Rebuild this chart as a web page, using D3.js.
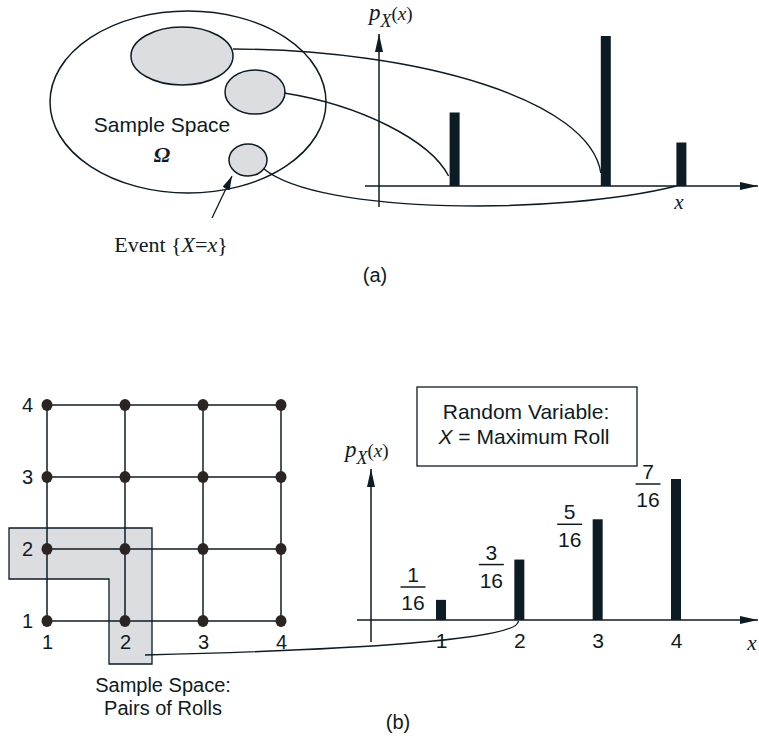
<!DOCTYPE html>
<html>
<head>
<meta charset="utf-8">
<script src="https://cdn.jsdelivr.net/npm/d3@7"></script>
<style>
  body { margin: 0; background: #fff; }
  svg { display: block; }
  .sans { font-family: "Liberation Sans", Arial, Helvetica, sans-serif; }
  .serif { font-family: "Liberation Serif", "Times New Roman", serif; }
</style>
</head>
<body>
<div id="chart"></div>
<script>
// ---- data ----
// (a) abstract PMF: bar positions on x and heights (relative to the tallest)
var aPositions = [2, 6, 8];
var aHeights = [0.49, 1.0, 0.29];

// (b) two rolls of a 4-sided die
var rolls = [1, 2, 3, 4];
var maxValues = [1, 2, 3, 4];
var numerators = [1, 3, 5, 7];
var denominator = 16;
var eventCells = [[1, 2], [2, 1], [2, 2]]; // {X = 2}

var ink = "#0d1b24";
var dotInk = "#2a2522";
var gray = "#dcdde0";

var W = 759, H = 736;

var svg = d3.select("#chart").append("svg")
    .attr("width", W)
    .attr("height", H);

var defs = svg.append("defs");
defs.append("marker")
    .attr("id", "arrow")
    .attr("viewBox", "0 0 18 8")
    .attr("refX", 18).attr("refY", 4)
    .attr("markerWidth", 18).attr("markerHeight", 8)
    .attr("markerUnits", "userSpaceOnUse")
    .attr("orient", "auto")
    .append("path")
    .attr("d", "M0,0 L18,4 L0,8 Z")
    .attr("fill", ink);
defs.append("marker")
    .attr("id", "arrowSmall")
    .attr("viewBox", "0 0 14 8")
    .attr("refX", 14).attr("refY", 4)
    .attr("markerWidth", 14).attr("markerHeight", 8)
    .attr("markerUnits", "userSpaceOnUse")
    .attr("orient", "auto")
    .append("path")
    .attr("d", "M0,0 L14,4 L0,8 Z")
    .attr("fill", ink);

// ================= (a) =================
var a = svg.append("g");

var ax0 = 379, ay0 = 186;
var xA = d3.scaleLinear().domain([0, 10]).range([ax0, 757]);
var yA = d3.scaleLinear().domain([0, 1]).range([ay0, 36]);

// sample space
a.append("ellipse")
    .attr("cx", 188).attr("cy", 102).attr("rx", 138).attr("ry", 91)
    .attr("fill", "none").attr("stroke", ink).attr("stroke-width", 1.5);

var blobs = [
    {cx: 182, cy: 56, rx: 51, ry: 29},
    {cx: 255, cy: 92, rx: 30, ry: 22},
    {cx: 248, cy: 160, rx: 19, ry: 16}
];
a.selectAll("ellipse.blob")
    .data(blobs)
    .enter()
    .append("ellipse")
    .attr("class", "blob")
    .attr("cx", function(d){ return d.cx; })
    .attr("cy", function(d){ return d.cy; })
    .attr("rx", function(d){ return d.rx; })
    .attr("ry", function(d){ return d.ry; })
    .attr("fill", gray).attr("stroke", ink).attr("stroke-width", 1.5);

a.append("text").attr("class", "sans")
    .attr("x", 162).attr("y", 132)
    .attr("text-anchor", "middle")
    .attr("font-size", 21).attr("fill", ink)
    .text("Sample Space");
a.append("text").attr("class", "serif")
    .attr("x", 162).attr("y", 162)
    .attr("text-anchor", "middle")
    .attr("font-size", 22).attr("font-weight", "bold").attr("font-style", "italic")
    .attr("fill", ink)
    .text("Ω");

// event pointer
a.append("line")
    .attr("x1", 212).attr("y1", 218).attr("x2", 232).attr("y2", 176)
    .attr("stroke", ink).attr("stroke-width", 1.3)
    .attr("marker-end", "url(#arrowSmall)");
var ev = a.append("text").attr("class", "serif")
    .attr("x", 171).attr("y", 252)
    .attr("text-anchor", "middle")
    .attr("font-size", 22).attr("fill", ink);
ev.append("tspan").text("Event {");
ev.append("tspan").attr("font-style", "italic").text("X");
ev.append("tspan").text("=");
ev.append("tspan").attr("font-style", "italic").text("x");
ev.append("tspan").text("}");

// axes
a.append("line")
    .attr("x1", 365).attr("y1", ay0).attr("x2", 758).attr("y2", ay0)
    .attr("stroke", ink).attr("stroke-width", 1.5)
    .attr("marker-end", "url(#arrow)");
a.append("line")
    .attr("x1", ax0).attr("y1", 207).attr("x2", ax0).attr("y2", 34)
    .attr("stroke", ink).attr("stroke-width", 1.5)
    .attr("marker-end", "url(#arrow)");

// bars
a.selectAll("rect.bar")
    .data(aPositions)
    .enter()
    .append("rect")
    .attr("class", "bar")
    .attr("x", function(d){ return xA(d) - 5; })
    .attr("width", 10)
    .attr("y", function(d, i){ return yA(aHeights[i]); })
    .attr("height", function(d, i){ return ay0 - yA(aHeights[i]); })
    .attr("fill", ink);

// mapping curves: blob -> bar base
var mapCurves = [
    {bar: 1, p0: [233, 49], c1: [420, 50], c2: [590, 100], end: [-5, -13]},
    {bar: 0, p0: [284, 93], c1: [360, 105], c2: [430, 140], end: [-6, -10]},
    {bar: 2, p0: [264, 169], c1: [320, 215], c2: [560, 215], end: [-5, 0]}
];
a.selectAll("path.map")
    .data(mapCurves)
    .enter()
    .append("path")
    .attr("class", "map")
    .attr("d", function(d){
        var p = d3.path();
        p.moveTo(d.p0[0], d.p0[1]);
        p.bezierCurveTo(d.c1[0], d.c1[1], d.c2[0], d.c2[1],
            xA(aPositions[d.bar]) + d.end[0], ay0 + d.end[1]);
        return p.toString();
    })
    .attr("fill", "none").attr("stroke", ink).attr("stroke-width", 1.4);

// labels
function pxLabel(g, x, y){
    var t = g.append("text").attr("class", "serif")
        .attr("x", x).attr("y", y)
        .attr("font-size", 23).attr("fill", ink);
    t.append("tspan").attr("font-style", "italic").text("p");
    t.append("tspan").attr("font-style", "italic").attr("font-size", 18).attr("dy", 7).text("X");
    t.append("tspan").attr("font-size", 19).attr("dy", -7).text("(");
    t.append("tspan").attr("font-style", "italic").attr("font-size", 19).text("x");
    t.append("tspan").attr("font-size", 19).text(")");
}
pxLabel(a, 369, 20);

a.append("text").attr("class", "serif")
    .attr("x", 679).attr("y", 209)
    .attr("text-anchor", "middle")
    .attr("font-size", 21).attr("font-style", "italic").attr("fill", ink)
    .text("x");

a.append("text").attr("class", "sans")
    .attr("x", 375).attr("y", 282)
    .attr("text-anchor", "middle")
    .attr("font-size", 20).attr("fill", ink)
    .text("(a)");

// ================= (b) =================
var b = svg.append("g");

var gx = d3.scaleLinear().domain([1, 4]).range([47, 281]);
var gy = d3.scaleLinear().domain([1, 4]).range([621, 405]);

// event region {X = 2}
var padL = 38, padR = 27, padT = 21, padB = 43, inner = 16, innerY = 30;
var ev2 = [
    [gx(eventCells[0][0]) - padL, gy(eventCells[0][1]) - padT],
    [gx(eventCells[2][0]) + padR, gy(eventCells[2][1]) - padT],
    [gx(eventCells[1][0]) + padR, gy(eventCells[1][1]) + padB],
    [gx(eventCells[1][0]) - inner, gy(eventCells[1][1]) + padB],
    [gx(eventCells[1][0]) - inner, gy(eventCells[2][1]) + innerY],
    [gx(eventCells[0][0]) - padL, gy(eventCells[0][1]) + innerY]
];
b.append("path")
    .attr("d", d3.line()(ev2) + "Z")
    .attr("fill", gray).attr("stroke", ink).attr("stroke-width", 1.3);

// grid lines
b.selectAll("line.gh")
    .data(rolls)
    .enter()
    .append("line")
    .attr("class", "gh")
    .attr("x1", gx(1)).attr("x2", gx(4))
    .attr("y1", function(d){ return gy(d); })
    .attr("y2", function(d){ return gy(d); })
    .attr("stroke", ink).attr("stroke-width", 1.5);
b.selectAll("line.gv")
    .data(rolls)
    .enter()
    .append("line")
    .attr("class", "gv")
    .attr("y1", gy(1)).attr("y2", gy(4))
    .attr("x1", function(d){ return gx(d); })
    .attr("x2", function(d){ return gx(d); })
    .attr("stroke", ink).attr("stroke-width", 1.5);

var pairs = d3.cross(rolls, rolls);
b.selectAll("ellipse.dot")
    .data(pairs)
    .enter()
    .append("ellipse")
    .attr("class", "dot")
    .attr("cx", function(d){ return gx(d[0]); })
    .attr("cy", function(d){ return gy(d[1]); })
    .attr("rx", 5.5).attr("ry", 6)
    .attr("fill", dotInk);

// roll labels
var gxAxis = b.append("g")
    .attr("transform", "translate(0," + gy(1) + ")")
    .call(d3.axisBottom(gx).tickValues(rolls).tickSize(0).tickPadding(14).tickFormat(d3.format("d")));
var gyAxis = b.append("g")
    .attr("transform", "translate(" + gx(1) + ",0)")
    .call(d3.axisLeft(gy).tickValues(rolls).tickSize(0).tickPadding(14).tickFormat(d3.format("d")));
[gxAxis, gyAxis].forEach(function(g){
    g.select(".domain").remove();
    g.selectAll("text").attr("class", "sans").attr("font-size", 20).attr("fill", ink);
});

b.append("text").attr("class", "sans")
    .attr("x", 163).attr("y", 692)
    .attr("text-anchor", "middle")
    .attr("font-size", 20).attr("fill", ink)
    .text("Sample Space:");
b.append("text").attr("class", "sans")
    .attr("x", 163).attr("y", 715)
    .attr("text-anchor", "middle")
    .attr("font-size", 20).attr("fill", ink)
    .text("Pairs of Rolls");

// PMF axes
var bx0 = 371, by0 = 620;
var xB = d3.scaleLinear().domain([1, 4]).range([441, 676]);
var yB = d3.scaleLinear().domain([0, 7 / 16]).range([by0, 479]);

b.append("line")
    .attr("x1", 357).attr("y1", by0).attr("x2", 758).attr("y2", by0)
    .attr("stroke", ink).attr("stroke-width", 1.5)
    .attr("marker-end", "url(#arrow)");
b.append("line")
    .attr("x1", bx0).attr("y1", 642).attr("x2", bx0).attr("y2", 469)
    .attr("stroke", ink).attr("stroke-width", 1.5)
    .attr("marker-end", "url(#arrow)");

var probs = numerators.map(function(n){ return n / denominator; });

b.selectAll("rect.bar")
    .data(maxValues)
    .enter()
    .append("rect")
    .attr("class", "bar")
    .attr("x", function(d){ return xB(d) - 5; })
    .attr("width", 10)
    .attr("y", function(d, i){ return yB(probs[i]); })
    .attr("height", function(d, i){ return by0 - yB(probs[i]); })
    .attr("fill", ink);

// connector from event region to bar at x = 2
var cp = d3.path();
cp.moveTo(ev2[2][0] - 7, ev2[2][1] - 9);
cp.bezierCurveTo(350, 650, xB(2), 640, xB(2) - 1, by0 + 1);
b.append("path")
    .attr("d", cp.toString())
    .attr("fill", "none").attr("stroke", ink).attr("stroke-width", 1.4);

var xBAxis = b.append("g")
    .attr("transform", "translate(0," + by0 + ")")
    .call(d3.axisBottom(xB).tickValues(maxValues).tickSize(0).tickPadding(13).tickFormat(d3.format("d")));
xBAxis.select(".domain").remove();
xBAxis.selectAll("text").attr("class", "sans").attr("font-size", 21).attr("fill", ink);

// fraction labels: beside the bar top, but clear of the axis
var frac = b.selectAll("g.frac")
    .data(maxValues)
    .enter()
    .append("g")
    .attr("class", "frac")
    .attr("transform", function(d, i){
        var ly = Math.min(yB(probs[i]) + 5, by0 - 33);
        return "translate(" + (xB(d) - 28) + "," + ly + ")";
    });
frac.append("line")
    .attr("x1", -12.5).attr("x2", 12.5)
    .attr("stroke", ink).attr("stroke-width", 1.5);
frac.append("text").attr("class", "sans")
    .attr("y", -5).attr("text-anchor", "middle")
    .attr("font-size", 21).attr("fill", ink)
    .text(function(d, i){ return numerators[i]; });
frac.append("text").attr("class", "sans")
    .attr("y", 23).attr("text-anchor", "middle")
    .attr("font-size", 21).attr("fill", ink)
    .text(denominator);

pxLabel(b, 345, 457);

b.append("text").attr("class", "serif")
    .attr("x", 752).attr("y", 650)
    .attr("text-anchor", "middle")
    .attr("font-size", 21).attr("font-style", "italic").attr("fill", ink)
    .text("x");

// random variable box
b.append("rect")
    .attr("x", 417).attr("y", 387).attr("width", 220).attr("height", 79)
    .attr("fill", "none").attr("stroke", ink).attr("stroke-width", 1.3);
b.append("text").attr("class", "sans")
    .attr("x", 526).attr("y", 419)
    .attr("text-anchor", "middle")
    .attr("font-size", 21).attr("fill", ink)
    .text("Random Variable:");
var rv = b.append("text").attr("class", "sans")
    .attr("x", 524).attr("y", 444)
    .attr("text-anchor", "middle")
    .attr("font-size", 21).attr("fill", ink);
rv.append("tspan").attr("font-style", "italic").text("X");
rv.append("tspan").text(" = Maximum Roll");

b.append("text").attr("class", "sans")
    .attr("x", 398).attr("y", 729)
    .attr("text-anchor", "middle")
    .attr("font-size", 20).attr("fill", ink)
    .text("(b)");
</script>
</body>
</html>
